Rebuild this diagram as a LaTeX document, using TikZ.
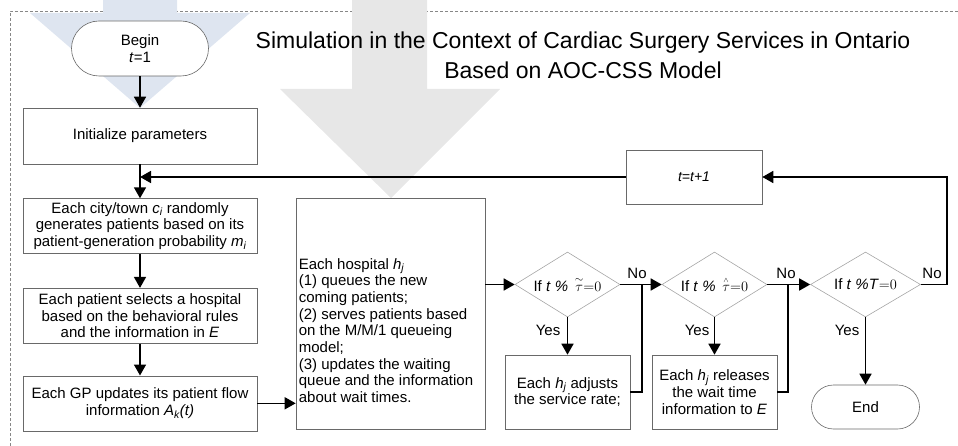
\documentclass[tikz,border=0pt]{standalone}
\usepackage{fontspec}
\setmainfont{Liberation Sans}
\usepackage{amsmath}
\usepackage{tikz}
\usetikzlibrary{shapes.geometric, arrows.meta, positioning}
\definecolor{bgblue}{RGB}{222,229,240}
\definecolor{bggray}{RGB}{231,231,231}
\definecolor{edgegray}{RGB}{105,105,105}

\begin{document}
\begin{tikzpicture}[x=1pt, y=-1pt,
                box/.style={
                  draw=edgegray, line width=0.6pt, fill=white, align=center,
                  font=\fontsize{15}{16.7}\selectfont, inner sep=2pt
                },
                startstop/.style={box, rounded corners=#1},
                startstop/.default=20pt,
                decide/.style={
                  diamond, aspect=1.6, draw=edgegray!60, line width=0.6pt, inner sep=0pt,
                  font=\fontsize{15}{16.7}\selectfont
                },
                flow/.style={line width=1.6pt, -{Triangle[length=11pt, width=12pt]}},
                link/.style={line width=1.6pt},
                lbl/.style={font=\fontsize{15}{16.7}\selectfont, inner sep=0pt}
                ]
  \useasboundingbox (0,0) rectangle (958,446);
  % frame and the two big background arrows
  \draw[edgegray!80, line width=0.5pt, dash pattern=on 3pt off 2pt] (10,446) -- (10,11) -- (958,11);
  \fill[bgblue] (103,0) -- (177,0) -- (177,13) -- (250,13) -- (140,108) -- (30,13) -- (103,13) -- cycle;
  \fill[bggray] (352,0) -- (427,0) -- (427,89) -- (500,89) -- (391,198) -- (280,89) -- (352,89) -- cycle;

  \node[font=\fontsize{23}{30}\selectfont, align=center] (title) at (583,55)
    {Simulation in the Context of Cardiac Surgery Services in Ontario\\Based on AOC-CSS Model};

  % left column
  \node[startstop=27.5pt, minimum width=137pt, minimum height=55pt] (begin) at (140,48.5) {Begin\\\textit{t}=1};
  \node[box, minimum width=234pt, minimum height=56pt] (init) at (140,136) {Initialize parameters};
  \node[box, minimum width=234pt, minimum height=55pt, below=34pt of init] (city)
    {Each city/town \textit{c\textsubscript{i}} randomly\\generates patients based on its\\patient-generation probability \textit{m\textsubscript{i}}};
  \node[box, minimum width=234pt, minimum height=55pt, below=34pt of city] (patient)
    {Each patient selects a hospital\\based on the behavioral rules\\and the information in \textit{E}};
  \node[box, minimum width=234pt, minimum height=55pt, below=32pt of patient] (gp)
    {Each GP updates its patient flow\\information \textit{A\textsubscript{k}(t)}};

  % hospital step
  \node[box, minimum width=189pt, minimum height=231pt] (hosp) at (390.5,313.5) {};
  \node[lbl, anchor=west, align=left] (hospText) at ([xshift=3pt, yshift=-17pt]hosp.west)
    {Each hospital \textit{h\textsubscript{j}}\\(1) queues the new\\coming patients;\\(2) serves patients based\\on the M/M/1 queueing\\model;\\(3) updates the waiting\\queue and the information\\about wait times.};

  \node[box, minimum width=136pt, minimum height=54pt, font=\fontsize{14}{16}\selectfont\itshape] (tnext) at (694,177) {t=t+1};

  % decisions
  \node[decide, minimum width=105pt, minimum height=65pt] (d1) at (567.5,284.5)
    {If \textit{t}\ \textit{\%}\ \,$\overset{\sim}{\tau}{=}0$};
  \node[decide, minimum width=105pt, minimum height=65pt] (d2) at (714.5,284.5)
    {If \textit{t}\ \textit{\%}\ \,$\overset{\scriptscriptstyle\wedge}{\tau}{=}0$};
  \node[decide, minimum width=110pt, minimum height=65pt] (d3) at (865.5,284.5) {If \textit{t}\ \textit{\%T}${=}0$};

  \node[box, minimum width=125pt, minimum height=74pt] (adjust) at (567.5,392) {Each \textit{h\textsubscript{j}} adjusts\\the service rate;};
  \node[box, minimum width=125pt, minimum height=74pt] (release) at (714.5,392) {Each \textit{h\textsubscript{j}} releases\\the wait time\\information to \textit{E}};
  \node[startstop=22pt, minimum width=108pt, minimum height=44pt] (stop) at (865.5,407) {End};

  \coordinate (loopR) at (947,177);
  \coordinate (j1) at (642,284.5);
  \coordinate (j2) at (788,284.5);

  \draw[flow] (begin) -- (init);
  \draw[flow] (init) -- (city);
  \draw[flow] (city) -- (patient);
  \draw[flow] (patient) -- (gp);
  \draw[flow] (gp) -- (gp -| hosp.west);
  \draw[flow] (d1.west -| hosp.east) -- (d1);
  \draw[flow] (d1) -- (d2);
  \draw[flow] (d2) -- (d3);
  \draw[flow] (d1) -- (adjust);
  \draw[flow] (d2) -- (release);
  \draw[flow] (d3) -- (stop);
  \draw[link] (adjust) -| (j1);
  \draw[link] (release) -| (j2);
  \draw[flow] (d3) -| (loopR) -- (tnext);
  \draw[flow] (tnext) -- (tnext -| init.south);

  \node[lbl] (no1) at (637,273) {No};
  \node[lbl] (yes1) at (548,330) {Yes};
  \node[lbl] (no2) at (786,273) {No};
  \node[lbl] (yes2) at (697,330) {Yes};
  \node[lbl] (no3) at (932,273) {No};
  \node[lbl] (yes3) at (847,330) {Yes};
\end{tikzpicture}
\end{document}
